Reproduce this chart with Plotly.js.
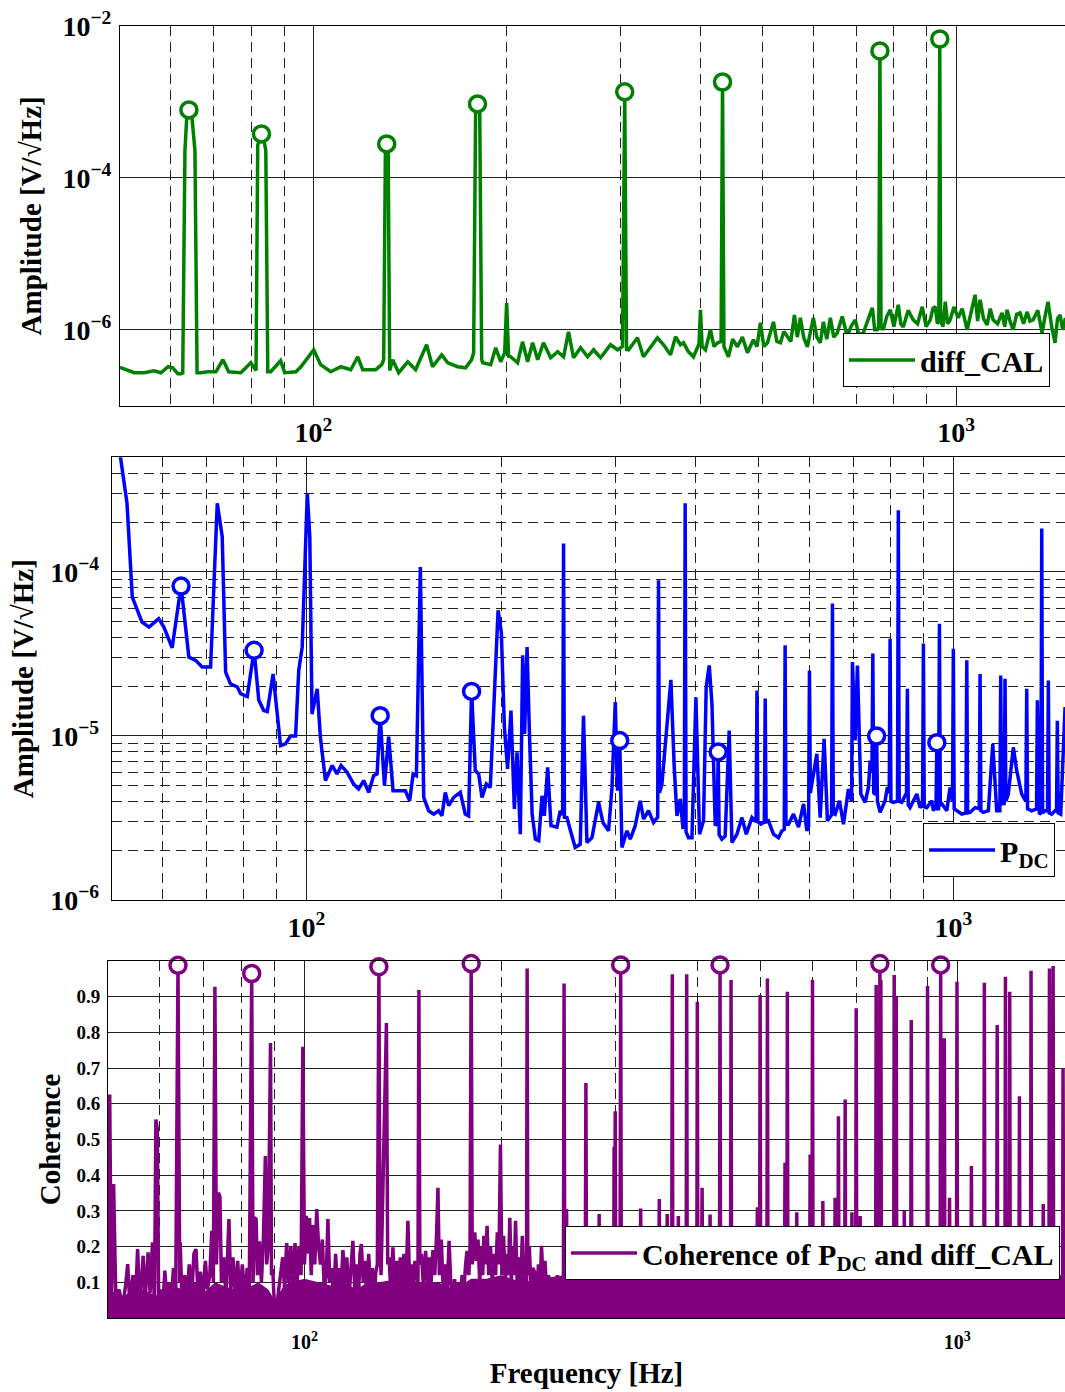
<!DOCTYPE html>
<html><head><meta charset="utf-8">
<script src="https://cdn.plot.ly/plotly-3.0.1.min.js"></script>
<style>html,body{margin:0;padding:0;background:#fff}#chart{width:1065px;height:1392px}</style>
</head><body><div id="chart"></div>
<script>
// ---------- Panel 1: diff_CAL amplitude spectrum ----------
const calFreq = [50.0,52.6,54.5,56.5,57.9,59.4,60.4,61.5,62.2,62.6,63.1,63.5,64.0,64.7,65.4,65.9,66.8,68.5,70.5,72.3,73.8,77.1,79.9,81.1,81.4,81.9,82.5,83.0,83.7,84.3,84.9,85.8,88.9,90.2,93.9,95.6,100.1,102.6,106.4,110.3,114.3,117.2,119.3,125.0,127.7,128.6,129.4,130.0,130.7,131.4,132.8,135.7,140.2,144.2,150.0,153.2,158.3,161.8,167.6,172.5,176.2,177.5,178.8,180.0,181.4,182.7,183.4,188.7,192.1,195.6,198.4,199.8,201.2,202.7,207.8,211.5,215.4,219.3,223.3,228.0,233.9,239.9,245.0,249.4,253.9,260.4,267.0,272.8,279.7,284.5,289.9,297.2,302.6,305.0,307.0,309.2,314.0,319.3,326.2,334.5,343.0,350.5,359.4,365.9,372.4,376.5,383.0,390.2,398.0,400.1,402.5,407.3,414.7,420.0,425.2,430.8,433.0,435.2,442.3,449.0,456.7,465.0,473.4,483.6,490.0,496.0,502.0,508.6,514.0,519.6,526.0,532.8,539.5,546.3,553.0,560.2,566.0,572.3,579.0,586.8,593.0,599.5,607.0,614.7,621.4,629.0,637.2,645.0,653.2,665.0,677.1,686.0,696.7,706.0,717.0,728.0,740.5,747.0,753.9,758.0,761.0,764.0,770.3,780.0,789.8,800.0,812.7,820.0,827.4,842.0,857.5,871.0,885.6,898.0,911.5,920.0,927.9,935.0,940.0,943.0,946.0,954.0,961.8,970.0,978.8,992.0,1007.2,1022.0,1040.2,1055.0,1070.3,1080.0,1089.7,1103.0,1117.4,1130.0,1141.6,1160.0,1179.0,1190.0,1200.2,1213.0,1226.4,1242.0,1257.5,1273.0,1289.3,1303.0,1317.4,1340.0,1360.5,1375.0,1390.0,1408.0,1425.3,1438.0,1451.0,1465.0,1477.0,1490.0];
const calAmp = [3.2e-7,2.72e-7,2.72e-7,2.89e-7,2.72e-7,3.26e-7,3.16e-7,2.64e-7,2.64e-7,2.7e-7,2.3e-4,6.2e-4,7.85e-4,6.2e-4,2.3e-4,2.72e-7,2.72e-7,2.8e-7,2.8e-7,4.03e-7,2.8e-7,2.72e-7,3.68e-7,2.98e-7,2.9e-7,2.7e-4,3.4e-4,3.79e-4,3.2e-4,2.3e-4,2.8e-7,2.8e-7,3.91e-7,2.72e-7,2.8e-7,3.26e-7,5.45e-7,3.47e-7,2.8e-7,3.26e-7,2.98e-7,4.41e-7,2.98e-7,2.98e-7,3.47e-7,4.03e-7,2.4e-4,2.8e-4,2.2e-4,2.9e-7,4.03e-7,2.72e-7,3.79e-7,2.98e-7,6.35e-7,3.26e-7,4.68e-7,3.68e-7,3.26e-7,3.16e-7,4.03e-7,5.0e-7,8.5e-4,9.42e-4,8.5e-4,4.03e-7,3.68e-7,3.47e-7,5.79e-7,3.79e-7,5.0e-7,2.26e-6,4.5e-7,4.41e-7,3.68e-7,6.95e-7,3.79e-7,6.74e-7,4.03e-7,6.74e-7,4.28e-7,5.14e-7,4.41e-7,9.4e-7,4.28e-7,5.79e-7,4.41e-7,5.45e-7,4.28e-7,5.2e-7,6.35e-7,5.45e-7,6.0e-7,1.36e-3,5.5e-7,5.45e-7,6.6e-7,7.85e-7,4.41e-7,5.97e-7,7.85e-7,6.35e-7,4.68e-7,8.1e-7,6.35e-7,6.74e-7,5.2e-7,4.41e-7,6.5e-7,1.83e-6,6.0e-7,5.45e-7,1.0e-6,6.0e-7,6.74e-7,7.0e-7,1.83e-3,6.0e-7,4.41e-7,7.5e-7,5.97e-7,8.0e-7,4.98e-7,7.38e-7,6.0e-7,1.24e-6,6.0e-7,6.74e-7,9.0e-7,1.27e-6,7.0e-7,6.74e-7,9.5e-7,8.1e-7,7.0e-7,1.57e-6,8.0e-7,1.44e-6,8.0e-7,5.97e-7,9.0e-7,1.44e-6,8.0e-7,6.74e-7,1.27e-6,7.5e-7,1.44e-6,8.0e-7,9.1e-7,1.5e-6,8.1e-7,1.1e-6,1.35e-6,8.5e-7,9.1e-7,1.3e-6,1.95e-6,1.0e-6,1.0e-6,1.1e-6,4.69e-3,1.1e-6,1.0e-6,1.5e-6,1.83e-6,1.1e-6,2.13e-6,1.2e-6,1.09e-6,1.8e-6,1.35e-6,1.2e-6,2.01e-6,1.1e-6,1.35e-6,1.9e-6,2.01e-6,1.2e-6,1.3e-6,6.74e-3,1.3e-6,1.1e-6,2.34e-6,1.2e-6,1.35e-6,2.0e-6,1.44e-6,1.9e-6,1.0e-6,1.7e-6,2.89e-6,1.3e-6,2.48e-6,1.4e-6,1.16e-6,1.9e-6,1.35e-6,1.2e-6,1.67e-6,1.1e-6,1.83e-6,1.3e-6,1.0e-6,1.6e-6,1.67e-6,1.2e-6,1.72e-6,1.3e-6,1.35e-6,1.8e-6,9.1e-7,1.5e-6,2.34e-6,1.1e-6,6.74e-7,1.4e-6,1.57e-6,1.0e-6,1.35e-6,1.3e-6];

// ---------- Panel 2: P_DC amplitude spectrum ----------
const pdcFreq = [50.0,52.8,53.8,55.7,57.1,59.1,60.2,62.0,64.0,65.8,67.4,69.0,71.1,72.8,74.1,75.0,76.3,78.2,79.1,81.0,83.0,84.4,85.9,87.0,88.8,90.1,91.2,92.8,94.5,96.2,97.3,98.5,100.3,101.2,102.0,103.9,105.1,107.0,109.6,111.5,113.1,115.6,118.3,120.4,122.6,124.8,127.0,128.6,130.0,132.0,134.0,136.1,138.8,142.2,144.4,146.2,147.9,150.0,151.8,154.5,157.3,160.1,162.0,163.9,165.9,168.9,172.9,176.0,178.1,180.0,182.4,184.6,186.8,189.7,192.4,195.9,197.8,200.1,202.3,204.6,207.1,209.6,211.6,214.1,215.9,217.4,219.3,221.1,223.3,225.9,228.6,231.3,233.2,236.0,238.8,243.9,246.8,248.9,249.7,250.5,252.7,257.3,260.3,265.0,268.1,271.4,276.3,282.9,287.3,293.1,296.7,300.2,302.6,305.0,307.4,312.9,316.6,322.3,328.1,331.9,337.9,344.0,349.1,350.2,351.3,354.4,359.9,365.9,370.3,373.9,378.3,381.9,383.8,385.0,386.2,389.6,394.4,400.0,405.2,411.0,414.9,419.4,423.5,428.5,431.5,433.0,434.5,438.7,443.9,450.3,454.7,462.9,471.2,478.5,488.3,495.5,497.1,498.7,504.2,510.3,511.9,513.5,517.9,527.2,536.7,543.2,547.8,549.5,551.2,556.1,566.0,576.3,586.7,593.7,597.3,599.2,601.1,607.8,615.2,622.5,631.3,638.8,648.3,650.3,652.3,656.6,666.7,676.3,688.4,696.1,698.3,705.0,710.8,719.5,730.6,739.2,743.7,748.5,750.8,753.1,756.8,758.7,761.0,763.3,770.5,784.3,790.7,796.0,798.4,800.8,807.8,819.7,822.2,824.7,832.3,846.5,849.1,851.7,857.2,878.0,888.4,896.2,898.9,901.6,909.8,926.3,931.5,940.2,943.0,945.8,948.8,951.7,954.6,960.5,977.0,988.3,997.0,1000.0,1003.0,1012.3,1030.4,1045.8,1049.0,1052.2,1061.2,1080.3,1096.5,1099.8,1103.1,1112.7,1132.7,1150.6,1166.9,1180.0,1183.6,1187.2,1193.5,1198.4,1202.0,1205.6,1216.2,1238.0,1253.0,1275.6,1294.6,1298.5,1302.4,1321.8,1344.6,1348.6,1358.2,1365.7,1369.8,1373.9,1386.0,1398.2,1402.4,1406.6,1419.3,1436.1,1443.7,1448.0,1452.3,1465.5,1488.3];
const pdcAmp = [1.2e-3,2.62e-4,7.03e-5,4.95e-5,4.61e-5,5.19e-5,4.61e-5,3.45e-5,8.2e-5,3.03e-5,2.89e-5,2.63e-5,2.63e-5,2.62e-4,1.64e-4,2.45e-5,2.08e-5,1.99e-5,1.81e-5,1.74e-5,3.33e-5,1.65e-5,1.43e-5,1.41e-5,2.39e-5,1.30e-5,8.73e-6,8.95e-6,1.0e-5,1.0e-5,2.51e-5,3.48e-5,3.01e-4,1.64e-4,1.36e-5,1.94e-5,9.8e-6,5.35e-6,6.6e-6,5.87e-6,6.6e-6,6.0e-6,5.09e-6,4.75e-6,5.35e-6,4.53e-6,5.73e-6,5.87e-6,1.33e-5,4.98e-6,9.9e-6,4.64e-6,4.64e-6,4.64e-6,4.03e-6,5.87e-6,5.73e-6,1.07e-4,4.22e-6,3.5e-6,3.34e-6,3.5e-6,3.26e-6,4.53e-6,3.76e-6,4.22e-6,4.53e-6,3.34e-6,3.26e-6,1.87e-5,6.15e-6,5.87e-6,4.22e-6,5.09e-6,4.86e-6,2.08e-5,5.83e-5,4.3e-5,1.13e-5,6.3e-6,1.43e-5,3.59e-6,7.94e-6,2.52e-6,3.1e-5,1.03e-5,3.48e-5,1.08e-5,3.34e-6,2.35e-6,2.3e-6,4.32e-6,3.26e-6,6.44e-6,2.84e-6,2.78e-6,3.5e-6,3.3e-6,1.49e-4,3.2e-6,3.18e-6,2.46e-6,2.09e-6,2.19e-6,1.33e-5,2.24e-6,2.4e-6,3.94e-6,2.97e-6,2.64e-6,4.86e-6,1.61e-5,4.64e-6,9.38e-6,2.09e-6,2.64e-6,2.35e-6,2.84e-6,4.03e-6,3.12e-6,3.5e-6,2.97e-6,3.2e-6,8.9e-5,4.5e-6,5.09e-6,1.1e-5,2.2e-5,6.44e-6,3.26e-6,4.13e-6,2.78e-6,2.8e-6,2.62e-4,2.6e-6,2.4e-6,2.4e-6,1.72e-5,2.52e-6,3.04e-6,1.99e-5,2.69e-5,1.57e-5,2.84e-6,3.0e-6,8.0e-6,2.5e-6,2.35e-6,2.46e-6,1.08e-5,2.24e-6,2.52e-6,3.18e-6,2.52e-6,3.18e-6,3.0e-6,1.89e-5,3.0e-6,2.9e-6,3.0e-6,1.69e-5,3.0e-6,3.04e-6,2.52e-6,2.4e-6,2.64e-6,2.7e-6,3.57e-5,2.9e-6,2.9e-6,3.34e-6,2.78e-6,3.85e-6,2.64e-6,2.8e-6,2.51e-5,4.5e-6,5.87e-6,7.78e-6,3.18e-6,9.6e-6,3.04e-6,3.3e-6,6.41e-5,3.4e-6,3.34e-6,4.03e-6,2.9e-6,4.75e-6,4.0e-6,2.82e-5,9.38e-6,2.69e-5,4.43e-6,3.94e-6,4.86e-6,7.07e-6,6.0e-6,3.18e-5,4.5e-6,4.43e-6,4.4e-6,1.0e-5,4.0e-6,3.42e-6,4.03e-6,4.86e-6,4.5e-6,3.92e-5,4.0e-6,3.94e-6,4.0e-6,2.38e-4,4.0e-6,3.94e-6,4.5e-6,1.94e-5,3.8e-6,3.66e-6,4.43e-6,3.66e-6,3.8e-6,3.66e-5,3.7e-6,3.66e-6,4.03e-6,3.5e-6,3.8e-6,9.1e-6,3.6e-6,3.6e-6,4.84e-5,3.8e-6,3.85e-6,3.5e-6,4.86e-6,4.0e-6,3.4e-5,3.6e-6,3.5e-6,3.34e-6,3.4e-6,2.89e-5,3.4e-6,3.42e-6,3.66e-6,3.6e-6,2.39e-5,3.5e-6,3.42e-6,3.5e-6,8.95e-6,3.5e-6,3.5e-6,2.34e-5,3.8e-6,4.03e-6,3.8e-6,2.23e-5,4.0e-6,4.43e-6,8.53e-6,6.15e-6,4.43e-6,4.0e-6,1.94e-5,3.6e-6,3.5e-6,3.6e-6,1.65e-5,3.34e-6,3.4e-6,1.84e-4,3.4e-6,3.5e-6,3.5e-6,2.18e-5,3.4e-6,3.34e-6,3.5e-6,3.5e-6,1.24e-5,3.4e-6,3.34e-6,1.5e-5];

// ---------- Panel 3: coherence ----------
const cohFreq = [50.0,50.3,50.6,51.0,51.4,52.0,52.6,53.2,53.6,54.0,54.6,55.1,55.5,55.9,56.3,56.6,57.0,57.6,58.0,58.5,58.9,59.2,59.5,59.8,60.3,60.7,61.1,61.5,62.0,62.5,63.0,63.5,64.0,64.4,64.5,64.9,65.5,66.0,66.6,67.2,67.7,68.2,68.7,69.3,69.9,70.5,71.0,71.6,72.1,72.5,72.9,73.3,73.8,74.2,74.6,75.2,75.8,76.6,77.1,77.7,78.3,79.0,79.6,80.3,81.0,81.7,82.3,83.0,83.4,83.8,84.3,84.7,85.3,85.9,86.5,87.1,87.5,88.0,88.7,89.0,89.4,89.9,90.6,91.3,92.0,92.6,93.2,93.9,94.6,95.3,96.0,96.7,97.4,98.1,98.8,99.4,100.0,100.6,101.2,101.8,102.4,103.0,103.7,104.4,105.1,105.8,106.5,107.2,108.0,108.6,109.3,110.0,110.8,111.6,112.4,113.0,113.7,114.5,115.3,116.1,116.9,117.7,118.6,119.4,120.2,121.0,121.6,122.2,123.0,123.8,124.6,125.4,126.2,127.0,127.8,128.6,129.3,130.0,130.5,131.0,131.6,132.7,133.5,134.1,134.8,135.5,136.6,137.5,138.4,139.3,140.2,141.1,142.0,143.0,144.0,144.9,145.8,146.7,147.6,148.6,149.2,149.7,150.2,151.0,152.0,153.3,154.3,155.3,156.3,157.3,158.3,159.3,160.1,160.9,162.0,163.1,164.2,165.3,166.5,167.5,168.6,169.8,170.9,172.0,173.2,174.3,175.5,176.5,177.4,178.5,179.3,180.0,180.7,181.5,182.3,183.3,184.4,185.5,186.6,187.5,188.2,189.3,190.4,191.5,192.7,193.9,195.1,196.2,197.4,198.5,199.6,200.6,201.8,203.0,204.2,205.3,206.3,207.4,208.5,209.5,210.5,211.7,213.0,214.3,215.6,216.8,218.0,218.8,219.3,219.8,221.0,222.3,223.8,225.3,226.7,228.2,229.5,230.7,232.0,233.5,235.0,236.5,238.0,240.0,242.0,244.0,246.0,248.0,249.2,249.8,250.4,252.0,252.6,255.0,258.0,261.0,264.0,268.0,269.2,269.8,270.4,275.0,280.0,282.2,282.7,283.2,288.0,293.0,297.6,298.0,298.5,299.2,299.8,304.3,305.0,305.7,312.0,320.0,326.7,327.3,327.9,335.0,342.0,348.9,349.5,350.1,355.0,358.8,359.4,360.0,365.2,365.9,366.6,370.0,373.2,373.8,374.4,379.0,384.3,385.0,385.7,392.0,399.0,399.7,400.4,405.8,406.5,407.2,412.0,417.4,418.1,418.8,425.0,432.2,433.0,433.8,441.0,449.4,450.2,451.0,460.0,470.0,480.0,487.0,493.1,494.0,494.9,497.9,498.8,499.7,505.0,510.9,511.8,512.7,520.0,530.0,537.0,543.6,544.6,545.6,548.1,549.1,550.1,558.0,566.6,567.6,568.6,580.0,594.0,595.1,596.0,598.9,600.0,601.1,610.0,621.2,622.3,623.4,635.0,648.7,649.8,650.9,656.3,657.5,658.7,665.0,672.1,673.3,674.5,681.0,688.3,689.5,690.7,698.7,700.0,701.3,708.6,709.9,711.2,725.0,740.0,749.7,751.1,752.5,759.6,761.0,762.3,763.6,765.0,780.0,790.0,799.0,800.4,801.8,804.6,806.1,807.6,818.0,827.9,829.4,830.9,840.0,848.5,850.0,851.5,870.0,885.0,898.7,900.3,901.9,915.0,930.0,941.3,943.0,944.7,953.5,955.2,956.9,964.0,971.2,972.9,974.6,985.0,997.0,998.8,1000.6,1020.0,1040.0,1049.1,1051.0,1052.9,1075.0,1098.0,1100.0,1102.0,1125.0,1149.0,1151.0,1153.0,1170.0,1182.9,1185.0,1187.1,1195.0,1200.9,1203.0,1205.1,1225.0,1242.8,1245.0,1247.2,1270.0,1294.7,1297.0,1299.3,1325.0,1351.6,1354.0,1356.4,1370.0,1381.5,1384.0,1386.5,1394.0,1399.5,1402.0,1404.5,1430.0,1449.4,1452.0,1454.6,1470.0];
const cohVal = [0.06,0.626,0.04,0.375,0.05,0.08,0.03,0.09,0.151,0.04,0.12,0.05,0.193,0.06,0.1,0.174,0.05,0.184,0.07,0.212,0.03,0.556,0.53,0.02,0.08,0.04,0.133,0.06,0.1,0.05,0.14,0.08,0.988,0.1,0.212,0.05,0.12,0.06,0.15,0.07,0.18,0.193,0.06,0.13,0.05,0.16,0.08,0.12,0.244,0.1,0.928,0.15,0.351,0.34,0.1,0.17,0.06,0.277,0.08,0.17,0.06,0.16,0.05,0.15,0.06,0.14,0.08,0.965,0.1,0.281,0.277,0.12,0.215,0.1,0.22,0.454,0.15,0.2,0.77,0.12,0.137,0.04,0.02,0.08,0.14,0.17,0.08,0.21,0.1,0.2,0.08,0.21,0.1,0.2,0.12,0.76,0.15,0.286,0.18,0.28,0.12,0.26,0.15,0.305,0.2,0.15,0.22,0.08,0.12,0.277,0.1,0.14,0.06,0.18,0.07,0.14,0.08,0.19,0.1,0.17,0.05,0.14,0.216,0.08,0.15,0.06,0.18,0.207,0.1,0.16,0.05,0.18,0.07,0.14,0.05,0.13,0.15,0.984,0.2,0.12,0.286,0.537,0.826,0.15,0.17,0.08,0.198,0.07,0.16,0.06,0.17,0.1,0.18,0.08,0.272,0.1,0.15,0.06,0.16,0.12,0.1,0.919,0.15,0.18,0.1,0.188,0.08,0.17,0.1,0.19,0.12,0.23,0.365,0.12,0.22,0.08,0.15,0.06,0.216,0.1,0.06,0.109,0.04,0.1,0.05,0.12,0.08,0.15,0.188,0.12,0.2,0.993,0.15,0.2,0.24,0.16,0.22,0.1,0.2,0.12,0.23,0.15,0.258,0.12,0.2,0.1,0.18,0.12,0.24,0.15,0.486,0.12,0.23,0.1,0.18,0.12,0.281,0.1,0.2,0.12,0.272,0.1,0.17,0.08,0.23,0.1,0.15,0.1,0.979,0.12,0.2,0.08,0.14,0.128,0.05,0.15,0.08,0.202,0.1,0.16,0.07,0.12,0.06,0.1,0.08,0.12,0.07,0.1,0.08,0.937,0.1,0.305,0.08,0.1,0.07,0.1,0.08,0.09,0.1,0.658,0.08,0.1,0.07,0.1,0.291,0.08,0.1,0.08,0.1,0.48,0.1,0.579,0.1,0.1,0.989,0.1,0.08,0.1,0.09,0.307,0.09,0.1,0.08,0.1,0.333,0.09,0.1,0.09,0.291,0.1,0.1,0.963,0.09,0.1,0.08,0.286,0.1,0.08,0.1,0.963,0.09,0.1,0.08,0.886,0.1,0.1,0.365,0.09,0.1,0.08,0.29,0.1,0.08,0.1,0.989,0.1,0.08,0.1,0.947,0.09,0.1,0.08,0.1,0.08,0.1,0.31,0.09,0.1,0.905,0.08,0.1,0.09,0.951,0.1,0.08,0.1,0.08,0.1,0.435,0.1,0.09,0.914,0.1,0.08,0.1,0.296,0.08,0.1,0.09,0.458,0.1,0.1,0.947,0.09,0.1,0.08,0.328,0.1,0.08,0.1,0.337,0.09,0.1,0.565,0.08,0.1,0.09,0.612,0.1,0.08,0.1,0.296,0.09,0.1,0.868,0.08,0.1,0.286,0.09,0.1,0.08,0.1,0.933,0.09,0.1,0.993,0.1,0.947,0.09,0.1,0.08,0.1,0.961,0.12,0.1,0.9,0.09,0.1,0.08,0.3,0.1,0.08,0.1,0.835,0.09,0.1,0.08,0.1,0.93,0.09,0.1,0.08,0.1,0.989,0.1,0.1,0.784,0.09,0.1,0.08,0.337,0.1,0.08,0.1,0.942,0.09,0.1,0.08,0.1,0.426,0.09,0.1,0.08,0.939,0.1,0.08,0.1,0.821,0.09,0.1,0.08,0.956,0.1,0.08,0.1,0.914,0.09,0.1,0.08,0.621,0.1,0.08,0.1,0.973,0.09,0.1,0.08,0.319,0.1,0.08,0.1,0.979,0.09,0.1,0.09,0.986,0.1,0.08,0.1,0.70,0.09,0.1];
// dense noise floor of the coherence estimate (top of the solid band)
const cohFloorFreq = [50,53,55,58,60,63,65,68,70,73,75,78,80,83,85,88,90,93,95,100,105,110,115,120,125,130,140,150,160,170,180,190,200,215,230,250,300,400,600,800,1000,1200,1470];
const cohFloorVal = [0.08,0.06,0.09,0.07,0.06,0.09,0.08,0.1,0.07,0.1,0.09,0.08,0.1,0.09,0.1,0.08,0.05,0.09,0.1,0.11,0.1,0.09,0.1,0.08,0.1,0.1,0.11,0.1,0.1,0.08,0.11,0.11,0.12,0.1,0.11,0.12,0.12,0.12,0.12,0.12,0.12,0.12,0.12];

// ---------- Calibration lines (circle markers) ----------
const peakFreq = [64,83,130,180,305,433,761,943];
const calPeakAmp = [7.85e-4,3.79e-4,2.8e-4,9.42e-4,1.36e-3,1.83e-3,4.69e-3,6.74e-3];
const pdcPeakAmp = [8.2e-5,3.33e-5,1.33e-5,1.87e-5,9.38e-6,8.0e-6,1.0e-5,9.1e-6];
const cohPeakVal = [0.988,0.965,0.984,0.993,0.989,0.989,0.993,0.989];

// ---------- Ticks and grid values ----------
const freqTickVals = [100, 1000];
const freqTickText = ['10<sup>2</sup>', '10<sup>3</sup>'];
const xMinorTicks = [60,70,80,90,200,300,400,500,600,700,800,900];
const amp1TickVals = [1e-6, 1e-4, 1e-2];
const amp1TickText = ['10<sup>−6</sup>', '10<sup>−4</sup>', '10<sup>−2</sup>'];
const amp2TickVals = [1e-6, 1e-5, 1e-4];
const amp2TickText = ['10<sup>−6</sup>', '10<sup>−5</sup>', '10<sup>−4</sup>'];
const amp2MinorTicks = [2e-6,3e-6,4e-6,5e-6,6e-6,7e-6,8e-6,9e-6,2e-5,3e-5,4e-5,5e-5,6e-5,7e-5,8e-5,9e-5,2e-4,3e-4,4e-4];
const cohTicks = [0.1,0.2,0.3,0.4,0.5,0.6,0.7,0.8,0.9];

const GREEN = '#008000', BLUE = '#0000ff', PURPLE = '#800080';
const FONT = 'Liberation Serif, Times New Roman, serif';
const DASH = '10px,6px';
const LW = 3.5;

function xAxis(domain, range, anchor, tickSize, standoff) {
  return {
    type: 'log', domain: domain, range: range, anchor: anchor,
    showline: true, linecolor: '#000', linewidth: 1, mirror: true,
    ticks: '', showgrid: true, gridcolor: '#222', gridwidth: 1, zeroline: false,
    tickmode: 'array', tickvals: freqTickVals, ticktext: freqTickText,
    tickfont: {family: FONT, size: tickSize, color: '#000', weight: 'bold'},
    ticklabelstandoff: standoff,
    minor: {tickmode: 'array', tickvals: xMinorTicks, showgrid: true, griddash: DASH, gridcolor: '#222', gridwidth: 1, ticks: ''}
  };
}
function yAxis(domain, range, anchor, vals, text, size, lstand, title, tstand) {
  return {
    domain: domain, range: range, anchor: anchor,
    showline: true, linecolor: '#000', linewidth: 1, mirror: false,
    ticks: '', showgrid: true, gridcolor: '#222', gridwidth: 1, zeroline: false,
    tickmode: 'array', tickvals: vals, ticktext: text,
    tickfont: {family: FONT, size: size, color: '#000', weight: 'bold'},
    ticklabelstandoff: lstand,
    title: {text: title, standoff: tstand, font: {family: FONT, size: 29, color: '#000', weight: 'bold'}}
  };
}
const lg = (x, y) => ({x: x, y: y, xanchor: 'right', yanchor: 'bottom', bgcolor: '#fff', bordercolor: '#000', borderwidth: 1,
  font: {family: FONT, size: 30, color: '#000', weight: 'bold'}, itemwidth: 66, tracegroupgap: 0});

const traces = [
  {x: calFreq, y: calAmp, xaxis: 'x', yaxis: 'y', mode: 'lines', line: {color: GREEN, width: LW}, name: 'diff_CAL', legend: 'legend'},
  {x: peakFreq, y: calPeakAmp, xaxis: 'x', yaxis: 'y', mode: 'markers', showlegend: false,
   marker: {symbol: 'circle', size: 16, color: '#fff', line: {color: GREEN, width: 3.5}}},
  {x: pdcFreq, y: pdcAmp, xaxis: 'x2', yaxis: 'y2', mode: 'lines', line: {color: BLUE, width: LW}, name: 'P<sub>DC</sub>', legend: 'legend2'},
  {x: peakFreq, y: pdcPeakAmp, xaxis: 'x2', yaxis: 'y2', mode: 'markers', showlegend: false,
   marker: {symbol: 'circle', size: 16, color: '#fff', line: {color: BLUE, width: 3.5}}},
  {x: cohFloorFreq, y: cohFloorVal, xaxis: 'x3', yaxis: 'y3', mode: 'lines', fill: 'tozeroy', fillcolor: PURPLE,
   line: {color: PURPLE, width: 0}, showlegend: false},
  {x: cohFreq, y: cohVal, xaxis: 'x3', yaxis: 'y3', mode: 'lines', line: {color: PURPLE, width: LW},
   name: 'Coherence of P<sub>DC</sub> and diff_CAL', legend: 'legend3'},
  {x: peakFreq, y: cohPeakVal, xaxis: 'x3', yaxis: 'y3', mode: 'markers', showlegend: false, cliponaxis: false,
   marker: {symbol: 'circle', size: 16, color: '#fff', line: {color: PURPLE, width: 3.5}}}
];

const y1 = yAxis([0.7061, 1], [-7, -2], 'x', amp1TickVals, amp1TickText, 28, 2, 'Amplitude [V/√Hz]', 12);
y1.type = 'log';
const y2 = yAxis([0.3235, 0.6662], [-6, Math.log10(5e-4)], 'x2', amp2TickVals, amp2TickText, 28, 6, 'Amplitude [V/√Hz]', 7);
y2.type = 'log';
y2.minor = {tickmode: 'array', tickvals: amp2MinorTicks, showgrid: true, griddash: DASH, gridcolor: '#222', gridwidth: 1, ticks: ''};
const y3 = yAxis([0, 0.2763], [0, 1], 'x3', cohTicks, cohTicks.map(v => v.toFixed(1)), 19, 3, 'Coherence', 7);
y3.type = 'linear';

const x3 = xAxis([0, 1], [Math.log10(50), Math.log10(1462)], 'y3', 20, 6);
x3.title = {text: 'Frequency [Hz]', standoff: 10, font: {family: FONT, size: 29, color: '#000', weight: 'bold'}};

const layout = {
  width: 1065, height: 1392, paper_bgcolor: '#fff', plot_bgcolor: '#fff',
  margin: {l: 108, r: 0, t: 26, b: 74, pad: 0},
  font: {family: FONT, size: 28, color: '#000', weight: 'bold'},
  showlegend: true, hovermode: false,
  xaxis: xAxis([0.01254, 1], [Math.log10(50), Math.log10(1477)], 'y', 28, 2),
  xaxis2: xAxis([0.00387, 1], [Math.log10(50), Math.log10(1488)], 'y2', 28, 2),
  xaxis3: x3,
  yaxis: y1, yaxis2: y2, yaxis3: y3,
  legend: lg(0.9843, 0.7206),
  legend2: lg(0.9896, 0.3413),
  legend3: lg(0.9948, 0.0294)
};

Plotly.newPlot('chart', traces, layout, {staticPlot: true, displayModeBar: false});
</script></body></html>
